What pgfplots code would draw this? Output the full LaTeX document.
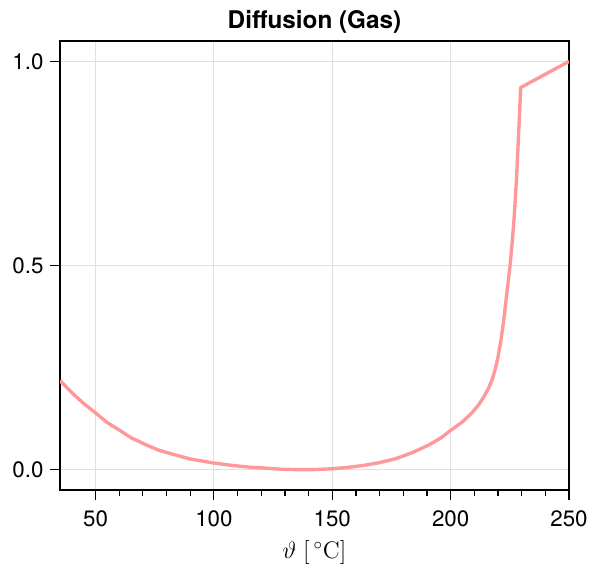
\documentclass[border=0pt]{standalone}
\usepackage[no-math]{fontspec}
\setmainfont{TeX Gyre Heros}
\usepackage{pgfplots}
\pgfplotsset{compat=1.18}
\usetikzlibrary{calc}
\definecolor{curve}{RGB}{255,153,153}
\begin{document}
\begin{tikzpicture}
\begin{axis}[
    width=254.5bp, height=224.5bp, scale only axis,
    xmin=35, xmax=250, ymin=-0.05, ymax=1.05,
    xtick={50,100,150,200,250},
    xticklabels={50,100,150,200,250},
    minor x tick num=4,
    ytick={0,0.5,1},
    yticklabels={0.0,0.5,1.0},
    tick align=outside,
    xtick pos=bottom, ytick pos=left,
    major tick length=4.75bp, minor tick length=3bp,
    tick style={black, line width=0.6pt},
    axis line style={line width=0.6pt},
    grid=major,
    major grid style={black!12, line width=0.5pt},
    ticklabel style={font=\fontsize{11.2}{13}\selectfont},
    xticklabel style={anchor=base, yshift=-13.5bp},
    title={Diffusion (Gas)},
    title style={at={(0.5,1)}, anchor=base, yshift=0.5bp,
        font=\bfseries\fontsize{12.2}{14}\selectfont},
    xlabel={$\vartheta\;[\,^\circ\mathrm{C}]$},
    xlabel style={at={(axis description cs:0.5,0)}, anchor=base, yshift=-34bp,
        font=\fontsize{11.5}{13}\selectfont},
]
\addplot[curve, line width=1.7pt, no marks, line join=round] coordinates {
    (35,0.218) (41,0.183) (45,0.162) (50,0.139) (55,0.115) (60,0.097)
    (65,0.078) (72,0.059) (77,0.047) (83,0.037) (90,0.026) (100,0.016)
    (108,0.010) (115,0.006) (121,0.004) (128,0.001) (135,0.0) (142,0.0)
    (150,0.002) (156,0.005) (163,0.010) (170,0.017) (177,0.027) (184,0.042)
    (191,0.061) (196,0.078) (200,0.096) (205,0.117) (209,0.139) (212,0.160)
    (214,0.178) (216,0.199) (217.5,0.220) (218.8,0.245) (220,0.275)
    (221.2,0.315) (222.3,0.360) (223.3,0.410) (224.2,0.455) (225.1,0.5)
    (225.9,0.55) (226.8,0.615) (227.8,0.709) (228.7,0.820) (229.6,0.936)
    (250,1.0)
};
\coordinate (sw) at (rel axis cs:0,0);
\coordinate (ne) at (rel axis cs:1,1);
\end{axis}
\pgfresetboundingbox
\path[use as bounding box] ($(sw)+(-30bp,-38.5bp)$) rectangle ($(ne)+(12bp,20.5bp)$);
\end{tikzpicture}
\end{document}
